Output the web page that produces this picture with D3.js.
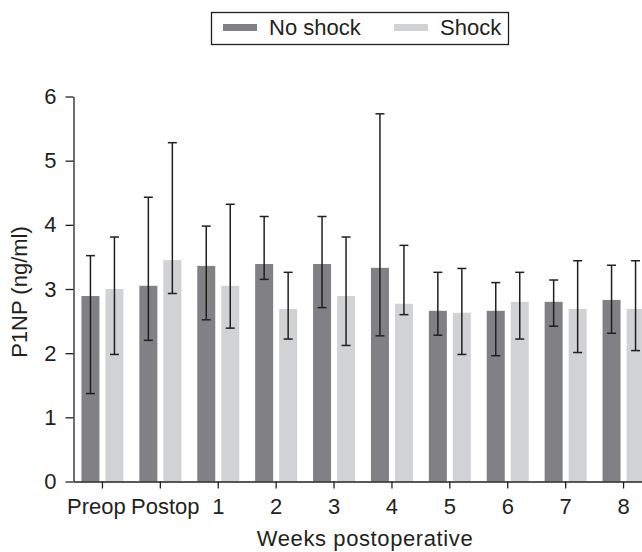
<!DOCTYPE html>
<html lang="en">
<head>
<meta charset="utf-8">
<title>P1NP</title>
<script src="https://cdn.jsdelivr.net/npm/d3@7"></script>
<style>
  body { margin: 0; background: #fff; font-family: "Liberation Sans", Arial, sans-serif; }
  .axis text { font-size: 22px; fill: #231f20; font-family: "Liberation Sans", Arial, sans-serif; }
  .axis path, .axis line { stroke: #231f20; stroke-width: 1.3px; }
  .title { font-size: 22px; fill: #231f20; }
</style>
</head>
<body>
<div id="chart"></div>
<script>
// data
var categories = ["Preop", "Postop", "1", "2", "3", "4", "5", "6", "7", "8"];
var groups = ["No shock", "Shock"];
var noShock      = [2.89, 3.05, 3.36, 3.39, 3.39, 3.33, 2.66, 2.66, 2.80, 2.83];
var noShockUpper = [3.52, 4.43, 3.98, 4.13, 4.13, 5.73, 3.26, 3.10, 3.14, 3.37];
var noShockLower = [1.37, 2.20, 2.52, 3.15, 2.71, 2.27, 2.28, 1.96, 2.42, 2.31];
var shock        = [3.00, 3.45, 3.05, 2.69, 2.89, 2.77, 2.63, 2.80, 2.69, 2.69];
var shockUpper   = [3.81, 5.28, 4.32, 3.26, 3.81, 3.68, 3.32, 3.26, 3.44, 3.44];
var shockLower   = [1.98, 2.93, 2.39, 2.22, 2.12, 2.60, 1.98, 2.22, 2.01, 2.04];
var yTicks = [0, 1, 2, 3, 4, 5, 6];

var colors = {"No shock": "#808085", "Shock": "#d1d2d4"};

// build rows
var rows = [];
categories.forEach(function(c, i) {
  rows.push({cat: c, group: "No shock", value: noShock[i], hi: noShockUpper[i], lo: noShockLower[i]});
  rows.push({cat: c, group: "Shock", value: shock[i], hi: shockUpper[i], lo: shockLower[i]});
});

var W = 642, H = 552;
var svg = d3.select("#chart").append("svg")
  .attr("width", W).attr("height", H);

var x0 = d3.scaleBand().domain(categories).range([73.5, 73.5 + 57.9 * categories.length]).padding(0);
var bw = x0.bandwidth();
var x1 = d3.scaleBand().domain(groups).range([bw / 2 - 21, bw / 2 + 21]).paddingInner(0.25).paddingOuter(0);
var y = d3.scaleLinear().domain([0, 6]).range([481.5, 96.5]);

// bars
svg.append("g").selectAll("rect")
  .data(rows).enter().append("rect")
  .attr("x", function(d) { return x0(d.cat) + x1(d.group); })
  .attr("width", x1.bandwidth())
  .attr("y", function(d) { return y(d.value); })
  .attr("height", function(d) { return y(0) - y(d.value); })
  .style("fill", function(d) { return colors[d.group]; });

// error bars
var eb = svg.append("g").attr("stroke", "#231f20").attr("stroke-width", 1.5);
rows.forEach(function(d) {
  var cx = x0(d.cat) + x1(d.group) + x1.bandwidth() / 2;
  eb.append("line").attr("x1", cx).attr("x2", cx).attr("y1", y(d.hi)).attr("y2", y(d.lo));
  eb.append("line").attr("x1", cx - 4.5).attr("x2", cx + 4.5).attr("y1", y(d.hi)).attr("y2", y(d.hi));
  eb.append("line").attr("x1", cx - 4.5).attr("x2", cx + 4.5).attr("y1", y(d.lo)).attr("y2", y(d.lo));
});

// axes
svg.append("g")
  .attr("class", "axis")
  .attr("transform", "translate(73.5,0)")
  .call(d3.axisLeft(y).tickValues(yTicks).tickFormat(d3.format("d")).tickSize(8).tickSizeOuter(0).tickPadding(9));

var xAxisG = svg.append("g")
  .attr("class", "axis")
  .attr("transform", "translate(0," + y(0) + ")")
  .call(d3.axisBottom(x0).tickSize(7).tickSizeOuter(0).tickPadding(10));

// nudge the two long labels apart so they don't collide
xAxisG.selectAll("text")
  .attr("dx", function(d) { return d === "Preop" ? -6 : (d === "Postop" ? 5 : 0); });

// axis titles
svg.append("text")
  .attr("class", "title")
  .attr("x", 365).attr("y", 546)
  .attr("text-anchor", "middle")
  .style("letter-spacing", "0.6px")
  .text("Weeks postoperative");

svg.append("text")
  .attr("class", "title")
  .attr("transform", "translate(27,292) rotate(-90)")
  .attr("text-anchor", "middle")
  .text("P1NP (ng/ml)");

// legend
var lg = svg.append("g");
lg.append("rect")
  .attr("x", 211.5).attr("y", 12.5).attr("width", 297).attr("height", 32)
  .attr("fill", "#fff").attr("stroke", "#231f20").attr("stroke-width", 1.3);
var legendX = [223, 394];
groups.forEach(function(g, i) {
  lg.append("rect")
    .attr("x", legendX[i]).attr("y", 24).attr("width", 34).attr("height", 7)
    .style("fill", colors[g]);
  lg.append("text")
    .attr("x", legendX[i] + 46).attr("y", 34.5)
    .style("font-size", "22px").style("fill", "#231f20")
    .text(g);
});
</script>
</body>
</html>
